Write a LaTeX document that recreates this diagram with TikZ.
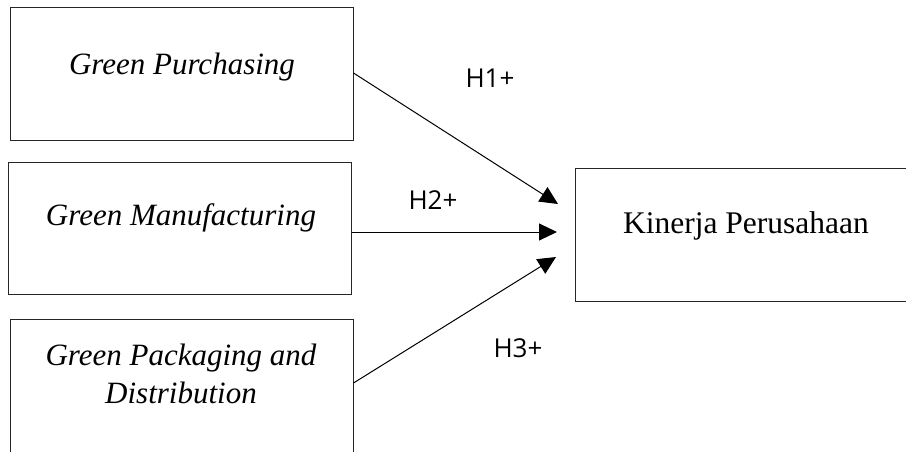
\documentclass[tikz,border=0pt]{standalone}
\usepackage{fontspec}
\setmainfont{Liberation Serif}
\newfontfamily\labelfont{Open Sans}
\usetikzlibrary{arrows.meta}
\begin{document}
\begin{tikzpicture}[x=1pt,y=-1pt,
  box/.style={draw=black!85,line width=1pt,inner sep=0pt},
  vartext/.style={font=\fontsize{31}{38}\selectfont\itshape,anchor=base,inner sep=0pt,align=center},
  hyp/.style={font=\labelfont\fontsize{26}{28}\selectfont,inner sep=0pt},
  link/.style={line width=1pt,-{Triangle[length=18pt,width=17pt]}}]
\useasboundingbox (0,0) rectangle (906,451);
\clip (0,0) rectangle (906,451);
\node[box,minimum width=343pt,minimum height=133pt] (gp) at (181.5,73.5) {};
\node[box,minimum width=343pt,minimum height=132pt] (gm) at (179.5,228) {};
\node[box,minimum width=343pt,minimum height=150pt] (gpd) at (181.5,394) {};
\node[box,minimum width=345pt,minimum height=133pt] (kp) at (747.5,234.5) {};
\node[vartext] (tgp) at (182,74) {Green Purchasing};
\node[vartext] (tgm) at (181,225) {Green Manufacturing};
\node[vartext] (tgpd1) at (181,365) {Green Packaging and};
\node[vartext] (tgpd2) at (181,403) {Distribution};
\node[font=\fontsize{31.5}{38}\selectfont,anchor=base,inner sep=0pt] (tkp) at (746,233) {Kinerja Perusahaan};
\coordinate (e1) at (558,204);
\coordinate (e2) at (557,232);
\coordinate (e3) at (556,257);
\draw[link] (gp.east |- 0,73) -- (e1);
\draw[link] (gm.east |- 0,232) -- (e2);
\draw[link] (gpd.east |- 0,383) -- (e3);
\node[hyp] (h1) at (490,78) {H1+};
\node[hyp] (h2) at (433,200) {H2+};
\node[hyp] (h3) at (518,348) {H3+};
\end{tikzpicture}
\end{document}
